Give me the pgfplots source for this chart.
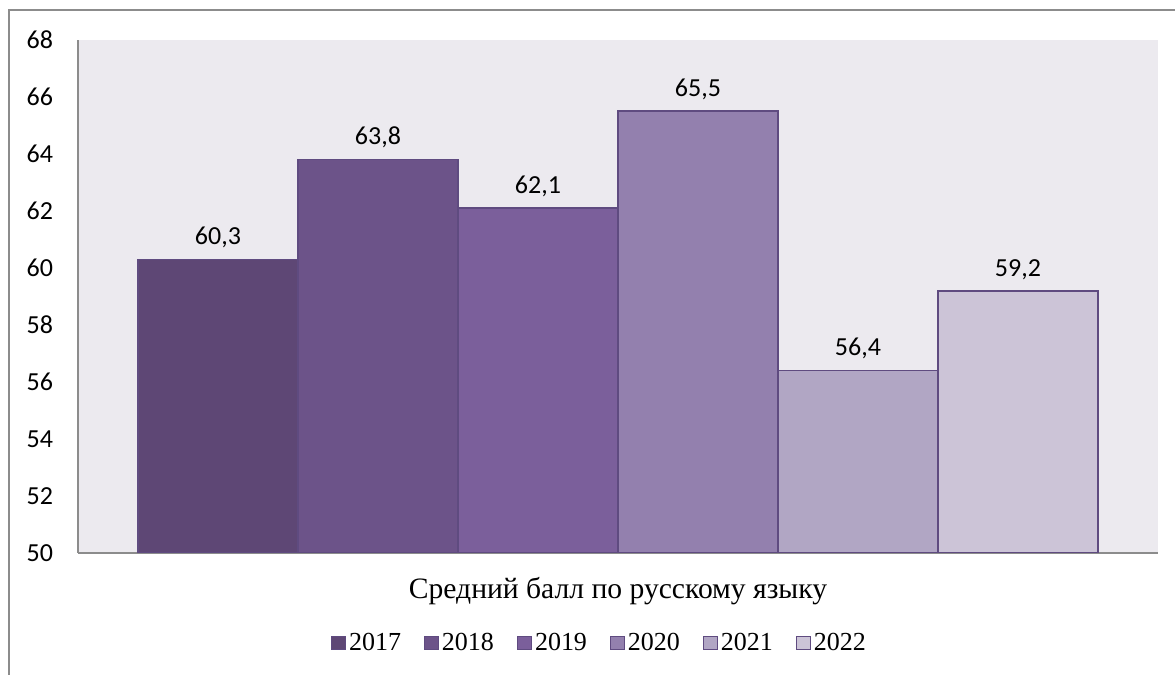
\documentclass[border=0pt]{standalone}
\usepackage{pgfplots}
\pgfplotsset{compat=1.18}
\usepackage{fontspec}
\setmainfont{Liberation Serif}
\newfontfamily\carlito{Carlito}

\definecolor{c17}{HTML}{5E4775}
\definecolor{c18}{HTML}{6C5389}
\definecolor{c19}{HTML}{7B5F9B}
\definecolor{c20}{HTML}{9380AE}
\definecolor{c21}{HTML}{B1A6C4}
\definecolor{c22}{HTML}{CCC4D7}
\definecolor{plotbg}{HTML}{ECEAEF}
\definecolor{edge}{HTML}{5F4B80}
\definecolor{framegray}{HTML}{8C8C8C}

\begin{document}
\begin{tikzpicture}
\useasboundingbox (0,0) rectangle (587.5pt,337.5pt);
\begin{axis}[
    at={(39pt,61pt)}, anchor=south west,
    scale only axis,
    width=540pt, height=256.5pt,
    ybar, bar width=1,
    xmin=-0.875, xmax=5.875,
    ymin=50, ymax=68,
    ytick={50,52,...,68},
    xtick=\empty,
    axis x line*=bottom, axis y line*=left,
    axis line style={draw=framegray, line width=0.75pt, -},
    ytick style={draw=none},
    axis background/.style={fill=plotbg},
    /pgf/number format/assume math mode=true,
    yticklabel style={font=\carlito\fontsize{13}{15}\selectfont, xshift=-9pt},
    nodes near coords,
    every node near coord/.append style={font=\carlito\fontsize{13}{15}\selectfont, black, yshift=2pt,
        /pgf/number format/fixed, /pgf/number format/fixed zerofill,
        /pgf/number format/precision=1, /pgf/number format/use comma},
    xlabel={Средний балл по русскому языку},
    every axis x label/.style={at={(axis description cs:0.5,0)}, anchor=center, yshift=-19pt,
        font=\fontsize{14.8}{17}\selectfont},
    legend style={at={(axis description cs:0.5,0)}, anchor=center, yshift=-45pt, xshift=-9pt,
        draw=none, fill=none, font=\fontsize{13}{15}\selectfont,
        /tikz/every even column/.append style={column sep=10pt},
        nodes={inner xsep=1.5pt}},
    legend columns=-1,
    legend image code/.code={\draw[#1, line width=0.5pt] (0pt,-3.2pt) rectangle (7pt,3.3pt);},
    every axis plot/.append style={bar shift=0pt, draw=edge, line width=0.75pt},
]
\addplot[fill=c17] coordinates {(0,60.3)};
\addplot[fill=c18] coordinates {(1,63.8)};
\addplot[fill=c19] coordinates {(2,62.1)};
\addplot[fill=c20] coordinates {(3,65.5)};
\addplot[fill=c21] coordinates {(4,56.4)};
\addplot[fill=c22] coordinates {(5,59.2)};
\legend{2017,2018,2019,2020,2021,2022}
\end{axis}
\draw[framegray, line width=1pt] (4.5pt,-2pt) -- (4.5pt,332.5pt) -- (590pt,332.5pt);
\end{tikzpicture}
\end{document}
